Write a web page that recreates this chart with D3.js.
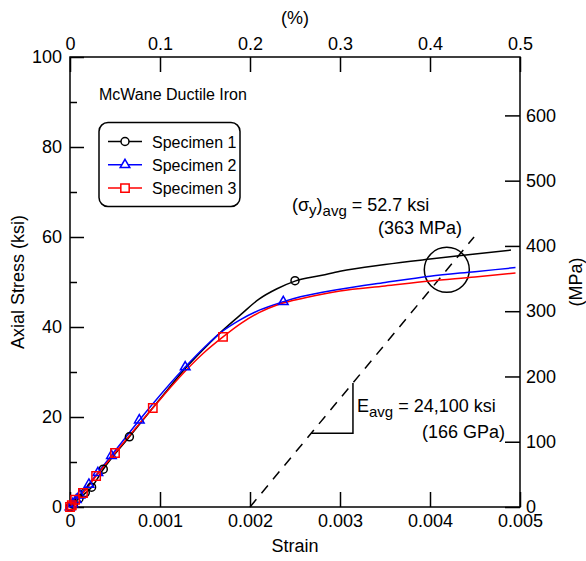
<!DOCTYPE html>
<html>
<head>
<meta charset="utf-8">
<script src="https://cdn.jsdelivr.net/npm/d3@7"></script>
<style>
  html, body { margin: 0; padding: 0; background: #fff; }
  svg { display: block; }
  text { font-family: "Liberation Sans", Arial, Helvetica, sans-serif; fill: #000; }
</style>
</head>
<body>
<svg id="chart" width="586" height="561"></svg>
<script>
// ---------- data (strain, stress in ksi) ----------
const spec1Curve = [[0,0],[0.0001,1.9],[0.00024,4.4],[0.00037,8.4],[0.00066,15.6],[0.001,24.0],[0.0013,31.2],[0.0015,35.4],[0.0017,39.3],[0.0019,42.8],[0.0021,46.2],[0.0023,48.5],[0.0025,50.2],[0.0028,51.5],[0.003,52.4],[0.0035,53.9],[0.004,55.1],[0.0045,56.2],[0.0049,57.1]];
const spec1Marks = [[0,0],[0.00004,0.6],[0.0001,1.9],[0.00017,3.2],[0.00024,4.4],[0.00037,8.4],[0.00066,15.6],[0.0025,50.3]];
const spec2Curve = [[0,0],[0.00011,2.6],[0.00031,7.6],[0.00077,19.3],[0.00128,31.1],[0.0015,35.6],[0.00167,38.7],[0.00189,41.6],[0.00211,43.8],[0.00237,45.6],[0.00256,46.7],[0.003,48.4],[0.0035,49.9],[0.004,51.3],[0.0045,52.3],[0.00495,53.2]];
const spec2Marks = [[0,0],[0.00003,0.7],[0.00007,1.6],[0.00011,2.6],[0.00021,5.0],[0.00031,7.6],[0.00046,11.4],[0.00077,19.3],[0.00128,31.1],[0.00237,45.6]];
const spec3Curve = [[0,0],[0.000056,1.6],[0.000144,3.1],[0.00029,6.9],[0.0005,12.0],[0.00092,22.0],[0.0013,30.6],[0.0015,34.5],[0.0017,37.8],[0.0019,40.8],[0.0021,43.2],[0.0023,44.9],[0.0025,46.0],[0.0028,47.3],[0.003,48.0],[0.0035,49.1],[0.004,50.2],[0.0045,51.1],[0.00495,52.0]];
const spec3Marks = [[0,0],[0.00002,0.4],[0.000056,1.6],[0.000144,3.1],[0.00029,6.9],[0.0005,12.0],[0.00092,22.0],[0.0017,37.8]];
const seriesNames = ["Specimen 1","Specimen 2","Specimen 3"];
const seriesColors = ["#000000","#0000ff","#ff0000"];
const strainTicks = [0,0.001,0.002,0.003,0.004,0.005];
const strainTickLabels = ["0","0.001","0.002","0.003","0.004","0.005"];
const percentTicks = [0,0.1,0.2,0.3,0.4,0.5];
const ksiTicks = [0,20,40,60,80,100];
const ksiMinorTicks = [10,30,50,70,90];
const mpaTicks = [0,100,200,300,400,500,600];
const offsetStrain = 0.002;      // 0.2% offset
const Eavg = 24100;              // ksi
const yieldAvg = 52.7;           // ksi
const KSI_TO_MPA = 6.894757;

// ---------- layout ----------
const svg = d3.select("#chart");
const L = 70, R = 520, T = 57, B = 507;
const x = d3.scaleLinear().domain([0,0.005]).range([L,R]);
const xTop = d3.scaleLinear().domain([0,0.5]).range([L,R]);
const y = d3.scaleLinear().domain([0,100]).range([B,T]);
const yR = d3.scaleLinear().domain([0,100*KSI_TO_MPA]).range([B,T]);
const FS = 18;

// frame
svg.append("rect").attr("x",L).attr("y",T).attr("width",R-L).attr("height",B-T)
  .attr("fill","none").attr("stroke","#000").attr("stroke-width",1.5);

function styleAxis(g){
  g.select(".domain").remove();
  g.selectAll(".tick line").attr("stroke","#000").attr("stroke-width",1.5);
  g.selectAll(".tick text").attr("font-size",FS).attr("font-family","Liberation Sans, Arial, sans-serif").attr("fill","#000");
}
// bottom
svg.append("g").attr("transform",`translate(0,${B})`)
  .call(d3.axisBottom(x).tickValues(strainTicks).tickFormat((d,i)=>strainTickLabels[i]).tickSize(-15).tickPadding(7))
  .call(styleAxis);
// top
svg.append("g").attr("transform",`translate(0,${T})`)
  .call(d3.axisTop(xTop).tickValues(percentTicks).tickFormat(d3.format("")).tickSize(-15).tickPadding(7))
  .call(styleAxis);
// left
svg.append("g").attr("transform",`translate(${L},0)`)
  .call(d3.axisLeft(y).tickValues(ksiTicks).tickSize(-14).tickPadding(8))
  .call(styleAxis);
svg.append("g").attr("transform",`translate(${L},0)`)
  .call(d3.axisLeft(y).tickValues(ksiMinorTicks).tickSize(-7).tickFormat(""))
  .call(styleAxis);
// right
svg.append("g").attr("transform",`translate(${R},0)`)
  .call(d3.axisRight(yR).tickValues(mpaTicks).tickSize(-15).tickPadding(6))
  .call(styleAxis);

// axis titles
svg.append("text").attr("x",(L+R)/2).attr("y",552).attr("text-anchor","middle").attr("font-size",FS).text("Strain");
svg.append("text").attr("x",295).attr("y",24).attr("text-anchor","middle").attr("font-size",FS).text("(%)");
svg.append("text").attr("transform",`translate(24,${(T+B)/2}) rotate(-90)`).attr("text-anchor","middle").attr("font-size",FS).text("Axial Stress (ksi)");
svg.append("text").attr("transform",`translate(582,${(T+B)/2}) rotate(-90)`).attr("text-anchor","middle").attr("font-size",FS).text("(MPa)");

// title
svg.append("text").attr("x",99).attr("y",100).attr("font-size",16).text("McWane Ductile Iron");

// offset line
const offStart = [offsetStrain,0];
const offEnd = [offsetStrain + 60/Eavg, 60];
svg.append("line").attr("x1",x(offStart[0])).attr("y1",y(offStart[1]))
  .attr("x2",x(offEnd[0])).attr("y2",y(offEnd[1]))
  .attr("stroke","#000").attr("stroke-width",1.5).attr("stroke-dasharray","10,8");

// slope triangle
const s1 = 16.4, xs2 = 0.003144;
svg.append("path")
  .attr("d",`M${x(offsetStrain + s1/Eavg)},${y(s1)} H${x(xs2)} V${y((xs2-offsetStrain)*Eavg)}`)
  .attr("fill","none").attr("stroke","#000").attr("stroke-width",1.5);

// yield circle
svg.append("circle").attr("cx",x(offsetStrain + yieldAvg/Eavg)).attr("cy",y(yieldAvg)).attr("r",22.5)
  .attr("fill","none").attr("stroke","#000").attr("stroke-width",1.5);

// curves
const line = d3.line().x(d=>x(d[0])).y(d=>y(d[1])).curve(d3.curveMonotoneX);
const curves = [spec1Curve, spec2Curve, spec3Curve];
const marks = [spec1Marks, spec2Marks, spec3Marks];
const symbols = [d3.symbolCircle, d3.symbolTriangle, d3.symbolSquare];
const symSizes = [50, 40, 70];
curves.forEach((c,i)=>{
  svg.append("path").datum(c).attr("d",line).attr("fill","none")
    .attr("stroke",seriesColors[i]).attr("stroke-width",1.5);
});
marks.forEach((m,i)=>{
  svg.append("g").selectAll("path").data(m).join("path")
    .attr("transform",d=>`translate(${x(d[0])},${y(d[1])})`)
    .attr("d",d3.symbol().type(symbols[i]).size(symSizes[i]))
    .attr("fill","none").attr("stroke",seriesColors[i]).attr("stroke-width",1.5);
});

// legend
svg.append("rect").attr("x",99).attr("y",122.5).attr("width",141).attr("height",84).attr("rx",9)
  .attr("fill","#fff").attr("stroke","#000").attr("stroke-width",1.5);
seriesNames.forEach((n,i)=>{
  const ly = 141.5 + i*23.3;
  svg.append("line").attr("x1",108).attr("x2",142).attr("y1",ly).attr("y2",ly)
    .attr("stroke",seriesColors[i]).attr("stroke-width",1.5);
  svg.append("path").attr("transform",`translate(125,${ly})`)
    .attr("d",d3.symbol().type(symbols[i]).size(symSizes[i]))
    .attr("fill","#fff").attr("stroke",seriesColors[i]).attr("stroke-width",1.5);
  svg.append("text").attr("x",152).attr("y",ly+6).attr("font-size",16).text(n);
});

// annotations
const a1 = svg.append("text").attr("x",292).attr("y",211).attr("font-size",FS);
a1.append("tspan").text("(\u03C3");
a1.append("tspan").attr("dy",4).attr("font-size",15).text("y");
a1.append("tspan").attr("dy",-4).text(")");
a1.append("tspan").attr("dy",5).attr("font-size",15).text("avg");
a1.append("tspan").attr("dy",-5).text(" = " + yieldAvg + " ksi");
svg.append("text").attr("x",462).attr("y",234).attr("text-anchor","end").attr("font-size",FS).text("(363 MPa)");

const a2 = svg.append("text").attr("x",357).attr("y",412).attr("font-size",FS);
a2.append("tspan").text("E");
a2.append("tspan").attr("dy",5).attr("font-size",15).text("avg");
a2.append("tspan").attr("dy",-5).text(" = " + d3.format(",")(Eavg) + " ksi");
svg.append("text").attr("x",505).attr("y",438).attr("text-anchor","end").attr("font-size",FS).text("(166 GPa)");
</script>
</body>
</html>
